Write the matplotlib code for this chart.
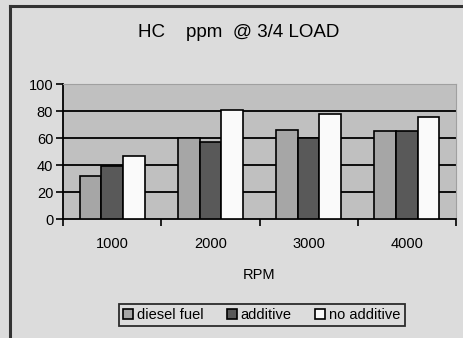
import matplotlib.pyplot as plt
import numpy as np
from matplotlib.lines import Line2D

rpm = ['1000', '2000', '3000', '4000']
diesel_fuel = [32, 60, 66, 65]
additive = [39, 57, 60, 65]
no_additive = [47, 81, 78, 76]

plt.rcParams['font.family'] = ['Liberation Sans', 'DejaVu Sans']

fig = plt.figure(figsize=(4.63, 3.38), dpi=100, facecolor='#dcdcdc')
ax = fig.add_axes([0.136, 0.352, 0.849, 0.399])
ax.set_facecolor('#c0c0c0')

x = np.arange(len(rpm))
w = 0.22
ax.bar(x - w, diesel_fuel, w, color='#a6a6a6', edgecolor='black', lw=1.2, label='diesel fuel', zorder=3)
ax.bar(x, additive, w, color='#595959', edgecolor='black', lw=1.2, label='additive', zorder=3)
ax.bar(x + w, no_additive, w, color='#fafafa', edgecolor='black', lw=1.2, label='no additive', zorder=3)

ax.set_xlim(-0.5, 3.5)
ax.set_ylim(0, 100)
ax.set_yticks(range(0, 101, 20))
ax.set_xticks(x)
ax.set_xticklabels(rpm)
ax.set_xticks(np.arange(-0.5, 4, 1), minor=True)
ax.tick_params(axis='x', which='major', length=0, pad=13, labelsize=10.5)
ax.tick_params(axis='x', which='minor', length=5, width=1.2, direction='out')
ax.tick_params(axis='y', length=5, width=1.2, labelsize=10.5, pad=2)
for y in [20, 40, 60, 80]:
    ax.axhline(y, color='black', lw=1.3, zorder=1)

for s in ['top', 'right']:
    ax.spines[s].set_color('#a0a0a0')
for s in ['left', 'bottom']:
    ax.spines[s].set_linewidth(1.3)

ax.set_xlabel('RPM', fontsize=10.5, labelpad=12)
fig.text(0.515, 0.905, 'HC    ppm  @ 3/4 LOAD', ha='center', va='center', fontsize=13.5)

leg = fig.legend(loc='center', bbox_to_anchor=(0.565, 0.068), ncol=3, fontsize=10.5,
                 frameon=True, fancybox=False, edgecolor='black', facecolor='#dcdcdc',
                 handlelength=0.7, handleheight=0.7, handletextpad=0.25, columnspacing=1.6,
                 borderpad=0.3, borderaxespad=0)
leg.get_frame().set_linewidth(1.3)

# outer frame (left and top only visible)
fig.add_artist(Line2D([0.021, 0.021], [0, 0.982], color='#333333', lw=2.2, transform=fig.transFigure))
fig.add_artist(Line2D([0.021, 1], [0.982, 0.982], color='#333333', lw=2.2, transform=fig.transFigure))

plt.savefig('out.png', dpi=100, facecolor=fig.get_facecolor())
